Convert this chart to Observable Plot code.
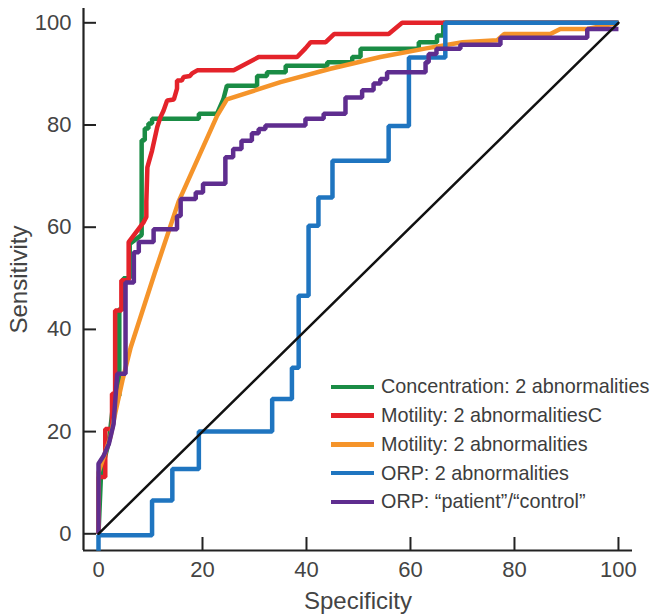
<!DOCTYPE html>
<html><head><meta charset="utf-8">
<script src="https://cdn.jsdelivr.net/npm/d3@7"></script>
<script src="https://cdn.jsdelivr.net/npm/@observablehq/plot@0.6"></script>
<style>
body{margin:0;background:#fff;font-family:"Liberation Sans",Arial,Helvetica,sans-serif;}
#wrap{position:relative;width:651px;height:614px;}
#legend{position:absolute;left:331px;top:372.5px;font-size:19.8px;color:#3d3d3d;}
.row{height:28.75px;display:flex;align-items:center;white-space:nowrap;}
.sw{width:43px;height:4.5px;margin-right:7px;flex:none;}
</style></head><body><div id="wrap"><div id="legend"></div></div>
<script>
const seriesNames = [
  "Concentration: 2 abnormalities",
  "Motility: 2 abnormalitiesC",
  "Motility: 2 abnormalities",
  "ORP: 2 abnormalities",
  "ORP: \u201cpatient\u201d/\u201ccontrol\u201d"
];
const seriesColors = ["#1a8c45", "#e4232a", "#f5942a", "#1f75c0", "#5f2d8f"];

// [specificity, sensitivity] points
const concentration = [[0,0],[0.5,12],[2,18],[3,27],[4,27],[4,44],[4.8,44],[4.8,50],[6,50],[6,56.7],[8.3,58.5],[8.3,77],[8.9,77],[8.9,79.3],[9.6,79.3],[9.6,80.3],[10.3,80.3],[10.3,81.2],[19.3,81.2],[19.3,82.2],[22.8,82.2],[24,85],[24.7,87.7],[30.5,87.7],[30.5,89.6],[32.4,89.6],[32.4,90.3],[36,90.3],[36,91.6],[44,91.6],[44,92.3],[48.8,92.3],[48.8,93.3],[50.4,93.3],[50.4,94.9],[61.6,94.9],[61.6,96.2],[65.1,96.2],[65.1,97.5],[66.3,97.5],[66.3,100],[100,100]];
const motilityC = [[0,0],[0,11.1],[1.3,11.1],[1.3,20.5],[2.6,20.5],[2.6,27.4],[3.2,27.4],[3.2,43.7],[4.4,43.7],[4.4,49.6],[5.8,49.6],[5.8,57.1],[8.7,61],[9.2,62],[9.2,65],[9.4,71.7],[10.3,75],[11.3,79.6],[11.9,81.5],[12.5,82.8],[13.2,84.8],[14.5,85],[15.1,87.1],[15.1,88.7],[16,88.7],[16.4,89.4],[17.6,89.6],[18,90.1],[19,90.7],[26,90.7],[30.8,93.3],[38.2,93.3],[39.8,95],[40.8,96.2],[43.7,96.2],[45.3,97.8],[55.8,97.8],[58.4,100],[100,100]];
const motility = [[0,0],[0,12],[1,15],[2.3,19],[3.3,24],[4.6,30],[6.2,36.5],[10.8,51],[15.4,65],[22.8,81.8],[24.7,85],[35,88.4],[44.6,91],[54.2,93.3],[63,95],[70,96.2],[76.7,96.6],[78,97.8],[86.9,97.8],[88.8,98.8],[94,98.8],[100,100]];
const orp = [[0,-3.3],[0,-0.3],[10.3,-0.3],[10.3,6.5],[14.2,6.5],[14.2,12.7],[19.3,12.7],[19.3,20],[33.4,20],[33.4,26.4],[37.2,26.4],[37.2,32.5],[38.5,32.5],[38.5,46.6],[40.4,46.6],[40.4,60.3],[42.3,60.3],[42.3,65.8],[45,65.8],[45,73],[55.8,73],[55.8,79.8],[59.7,79.8],[59.7,93.2],[66.7,93.2],[66.7,100],[100,100]];
const orpPatient = [[0,0],[0,13.7],[1.0,15.3],[2.0,17.6],[2.9,21.5],[3.6,31.3],[5.2,31.3],[5.2,49.2],[6.8,49.2],[6.8,55.1],[7.75,55.1],[7.75,57.1],[10.6,57.1],[10.6,59.6],[15.1,59.6],[15.1,62.2],[15.8,62.2],[15.8,65.5],[18.7,65.5],[18.7,66.8],[20.1,66.8],[20.1,68.5],[24.4,68.5],[24.4,73.7],[25.9,73.7],[25.9,75.3],[27.5,75.3],[27.5,76.9],[29.5,76.9],[29.5,78.4],[30.8,78.4],[30.8,79.2],[32.1,79.2],[32.1,79.9],[39.8,79.9],[39.8,81.2],[43.3,81.2],[43.3,82.2],[47.5,82.2],[47.5,85.4],[50.7,85.4],[50.7,86.8],[52.9,86.8],[52.9,88.1],[54.2,88.1],[54.2,89],[55.5,89],[55.5,90.3],[62.9,90.3],[62.9,92.3],[63.5,92.3],[63.5,93.9],[65,93.9],[65,94.9],[69.6,94.9],[69.6,95.7],[77.3,95.7],[77.3,97.1],[94,97.1],[94,98.8],[100,98.8]];
const diagonal = [[0,0],[100,100]];
const tickValues = [0, 20, 40, 60, 80, 100];
const xDomain = [-2.885, 102.7];
const yDomain = [-3.27, 102.8];
const xTitle = "Specificity";
const yTitle = "Sensitivity";

const allSeries = [concentration, motilityC, motility, orp, orpPatient];
const rows = [];
allSeries.forEach((pts, i) => pts.forEach(([x, y]) => rows.push({series: seriesNames[i], x, y})));

const chart = Plot.plot({
  width: 651, height: 614,
  marginLeft: 83, marginRight: 19, marginTop: 8, marginBottom: 64,
  x: {domain: xDomain},
  y: {domain: yDomain},
  color: {domain: seriesNames, range: seriesColors},
  style: {fontFamily: '"Liberation Sans", Arial, Helvetica, sans-serif', fontSize: "20px", color: "#444", background: "#fff"},
  marks: [
    Plot.axisX({ticks: tickValues, tickSize: -13, tickPadding: 24, strokeWidth: 2, stroke: "#222", label: null, tickFormat: d => d, fontSize: 22}),
    Plot.axisY({ticks: tickValues, tickSize: -13, tickPadding: 25, strokeWidth: 2, stroke: "#222", label: null, tickFormat: d => d, fontSize: 22}),
    Plot.ruleX([xDomain[0]], {stroke: "#222", strokeWidth: 2.2}),
    Plot.ruleY([yDomain[0]], {stroke: "#222", strokeWidth: 2.2}),
    Plot.line(rows, {x: "x", y: "y", z: "series", stroke: "series", strokeWidth: 4.5, strokeLinejoin: "miter", strokeLinecap: "butt"}),
    Plot.line(diagonal, {x: d => d[0], y: d => d[1], stroke: "#111", strokeWidth: 2.5}),
    Plot.text([xTitle], {frameAnchor: "bottom", dy: 41, lineAnchor: "top", fontSize: 24, fill: "#444"}),
    Plot.text([yTitle], {frameAnchor: "left", dx: -64, rotate: -90, textAnchor: "middle", fontSize: 24, fill: "#444"})
  ]
});
document.getElementById("wrap").prepend(chart);

const legend = document.getElementById("legend");
seriesNames.forEach((name, i) => {
  const row = document.createElement("div");
  row.className = "row";
  const sw = document.createElement("span");
  sw.className = "sw";
  sw.style.background = seriesColors[i];
  const t = document.createElement("span");
  t.textContent = name;
  row.appendChild(sw); row.appendChild(t);
  legend.appendChild(row);
});
</script>
</body></html>
